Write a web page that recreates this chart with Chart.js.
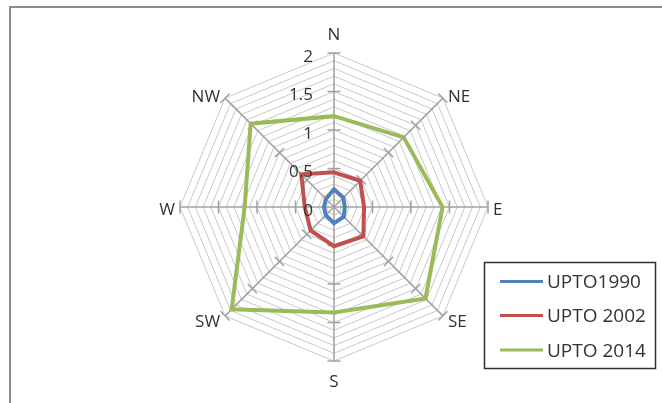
<!DOCTYPE html>
<html>
<head>
<meta charset="utf-8">
<script src="https://cdn.jsdelivr.net/npm/chart.js@4.4.0/dist/chart.umd.min.js"></script>
<style>
  html, body { margin: 0; padding: 0; background: #fff; }
  #wrap { position: relative; width: 662px; height: 403px; overflow: hidden; background: #fff; }
  #frame { position: absolute; left: 9px; top: 6px; right: -10px; bottom: -10px;
           border-top: 2px solid #8c8c8c; border-left: 2px solid #8c8c8c; }
  canvas { position: absolute; left: 0; top: 0; }
</style>
</head>
<body>
<div id="wrap">
  <div id="frame"></div>
  <canvas id="c" width="662" height="403"></canvas>
</div>
<script>
// Wind directions (clockwise from north) and cumulative values per period
const directions = ['N', 'NE', 'E', 'SE', 'S', 'SW', 'W', 'NW'];
const upto1990 = [0.23, 0.17, 0.14, 0.18, 0.21, 0.15, 0.13, 0.15];
const upto2002 = [0.45, 0.48, 0.39, 0.54, 0.51, 0.43, 0.38, 0.60];
const upto2014 = [1.18, 1.28, 1.41, 1.68, 1.37, 1.88, 1.16, 1.53];
const seriesNames = ['UPTO1990', 'UPTO 2002', 'UPTO 2014'];
const seriesColors = ['#4f81bd', '#c0504d', '#9bbb59'];
const tickValues = [0, 0.5, 1, 1.5, 2];
const tickLabels = ['0', '0.5', '1', '1.5', '2'];

const FONT = '"Open Sans", "Noto Sans", sans-serif';
const TEXT = '#333333';

// Axis tick marks, axis value labels, direction labels and the boxed legend
const decor = {
  id: 'decor',
  beforeDatasetsDraw(chart) {
    const s = chart.scales.r, ctx = chart.ctx;
    ctx.save();
    ctx.strokeStyle = '#a0a0a0';
    ctx.lineWidth = 1.5;
    directions.forEach((d, i) => {
      const a = s.getIndexAngle(i) - Math.PI / 2;
      const nx = -Math.sin(a), ny = Math.cos(a);
      tickValues.forEach(v => {
        if (v === 0) return;
        const p = s.getPointPositionForValue(i, v);
        ctx.beginPath();
        ctx.moveTo(p.x - nx * 6.5, p.y - ny * 6.5);
        ctx.lineTo(p.x + nx * 6.5, p.y + ny * 6.5);
        ctx.stroke();
      });
    });
    ctx.restore();
  },
  afterDatasetsDraw(chart) {
    const s = chart.scales.r, ctx = chart.ctx;
    ctx.save();
    ctx.fillStyle = TEXT;

    // value labels beside the north axis
    ctx.font = '17px ' + FONT;
    ctx.textAlign = 'right';
    ctx.textBaseline = 'alphabetic';
    tickValues.forEach((v, k) => {
      const y = s.yCenter - s.getDistanceFromCenterForValue(v);
      ctx.fillText(tickLabels[k], s.xCenter - 21, y + 8.5);
    });

    // direction labels outside the outer ring
    directions.forEach((d, i) => {
      const a = s.getIndexAngle(i) - Math.PI / 2;
      const cx = Math.cos(a), sy = Math.sin(a);
      const p = s.getPointPositionForValue(i, s.max);
      let x = p.x, y;
      if (cx > 0.1) { ctx.textAlign = 'left'; x = p.x + 5; }
      else if (cx < -0.1) { ctx.textAlign = 'right'; x = p.x - 5; }
      else ctx.textAlign = 'center';
      if (Math.abs(cx) <= 0.1) y = sy < 0 ? p.y - 13 : p.y + 26;
      else y = p.y + 7.5 + sy * 5;
      ctx.fillText(d, x, y);
    });

    // legend box
    const bx = 484.5, by = 262.5, bw = 171, bh = 106;
    ctx.strokeStyle = '#303030';
    ctx.lineWidth = 1.5;
    ctx.strokeRect(bx, by, bw, bh);
    ctx.font = '19px ' + FONT;
    ctx.textAlign = 'left';
    const rows = [281.5, 315.5, 350];
    chart.data.datasets.forEach((ds, k) => {
      const y = rows[k];
      ctx.strokeStyle = ds.borderColor;
      ctx.lineWidth = 3;
      ctx.beginPath();
      ctx.moveTo(500, y);
      ctx.lineTo(543, y);
      ctx.stroke();
      ctx.fillStyle = TEXT;
      ctx.fillText(ds.label, 547, y + 6.5);
    });
    ctx.restore();
  }
};

const seriesData = [upto1990, upto2002, upto2014];

new Chart(document.getElementById('c').getContext('2d'), {
  type: 'radar',
  data: {
    labels: directions,
    datasets: seriesData.map((vals, k) => ({
      label: seriesNames[k],
      data: vals,
      borderColor: seriesColors[k],
      backgroundColor: 'transparent',
      borderWidth: 4,
      fill: false,
      pointRadius: 0,
      pointHoverRadius: 0
    }))
  },
  options: {
    responsive: false,
    animation: false,
    devicePixelRatio: 1,
    layout: { padding: { left: 180, top: 53, right: 173, bottom: 41 } },
    plugins: { legend: { display: false }, tooltip: { enabled: false } },
    elements: { line: { tension: 0, borderJoinStyle: 'miter' } },
    scales: {
      r: {
        min: 0,
        max: 2,
        ticks: { display: false, stepSize: 0.1 },
        grid: { color: '#c8c8c8', lineWidth: 1, circular: false },
        angleLines: { color: '#a0a0a0', lineWidth: 1.5 },
        pointLabels: { display: false }
      }
    }
  },
  plugins: [decor]
});
</script>
</body>
</html>
